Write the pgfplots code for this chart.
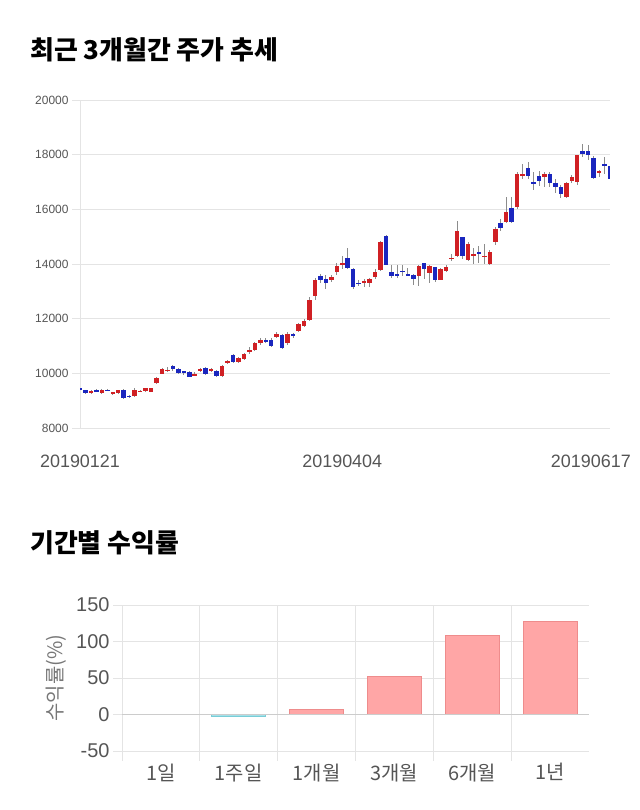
\documentclass[border=0pt]{standalone}
\usepackage{pgfplots}
\pgfplotsset{compat=1.18}
\usepackage{pgfplotstable}
\usepackage{fontspec}
\setmainfont{Liberation Sans}
\newfontfamily\kr{Noto Sans CJK KR}
\definecolor{upred}{RGB}{208,32,36}
\definecolor{dnblue}{RGB}{26,38,190}
\definecolor{wick}{RGB}{140,140,140}
\definecolor{gridc}{RGB}{228,228,228}
\definecolor{lbl}{RGB}{85,85,85}
\definecolor{barred}{RGB}{255,166,166}
\definecolor{barredd}{RGB}{238,140,140}
\definecolor{barcy}{RGB}{165,224,232}
\definecolor{barcyd}{RGB}{120,205,215}

% red candles (close >= open)
\pgfplotstableread{
i o h l c
2 9280 9400 9250 9350
4 9280 9420 9260 9400
6 9230 9320 9200 9300
7 9270 9400 9250 9380
10 9180 9450 9150 9400
11 9330 9380 9300 9360
12 9350 9480 9330 9450
13 9330 9470 9300 9450
14 9650 9880 9600 9830
15 9990 10200 9960 10160
16 10100 10250 10050 10130
21 9940 10050 9900 9970
22 10090 10200 10050 10150
24 10080 10180 10050 10150
26 9900 10300 9880 10270
27 10390 10500 10350 10450
29 10400 10600 10380 10550
30 10530 10750 10500 10700
31 10770 10950 10700 10850
32 10850 11150 10800 11100
33 11100 11300 11050 11220
36 11340 11500 11300 11440
38 11100 11500 11050 11440
40 11560 11850 11500 11800
41 11720 12000 11700 11920
42 11950 12800 11900 12700
43 12820 13480 12700 13420
46 13400 13600 13350 13540
47 13700 14050 13600 13940
48 13970 14300 13800 14030
52 13320 13450 13150 13380
53 13320 13500 13150 13440
54 13520 13800 13450 13720
55 13780 14850 13750 14820
62 13560 13950 13200 13920
64 13680 13950 13300 13920
66 13420 13850 13400 13800
67 13760 13950 13700 13880
68 14180 14350 14100 14230
69 14300 15570 14250 15210
71 14150 14800 14100 14720
72 14300 14600 14000 14350
74 14280 14750 14000 14310
75 14000 14500 13980 14450
76 14820 15350 14700 15270
78 15550 16450 15500 15920
80 16080 17350 16000 17300
81 17220 17650 17100 17300
85 17200 17350 16800 17300
89 16440 17000 16400 16950
90 17050 17250 16950 17170
91 17010 18000 16900 17980
95 17320 17450 17200 17400
}\candleup

% blue candles (close < open)
\pgfplotstableread{
i o h l c
0 9450 9480 9380 9400
1 9380 9400 9230 9280
3 9380 9420 9300 9320
5 9400 9420 9340 9370
8 9380 9430 9050 9080
9 9170 9220 9100 9140
17 10270 10300 10100 10170
18 10150 10180 9980 10000
19 10070 10100 9950 10040
20 10060 10100 9850 9880
23 10200 10250 9950 9960
25 10100 10120 9880 9900
28 10680 10700 10380 10410
34 11220 11300 11100 11150
35 11220 11300 10950 11000
37 11400 11450 10880 10920
39 11440 11480 11300 11350
44 13560 13650 13300 13420
45 13450 13600 13100 13300
49 14210 14590 13800 13870
50 13800 13850 13100 13170
51 13320 13400 13200 13260
56 15030 15050 13950 13970
57 13720 13950 13500 13560
58 13650 13950 13500 13560
59 13760 13950 13550 13710
60 13630 13850 13550 13600
61 13600 13650 13250 13450
63 14030 14050 13450 13800
65 13880 13900 13350 13420
70 14970 15000 14200 14300
73 14450 14650 14050 14350
77 15510 15650 15200 15310
79 16040 16450 15500 15550
82 17530 17750 17100 17220
83 17010 17350 16700 16920
84 17220 17400 16850 17050
86 17300 17350 16800 16950
87 16950 17100 16600 16810
88 16810 16900 16400 16570
92 18120 18400 17900 18030
93 18150 18350 17800 17980
94 17870 17950 17100 17160
96 17650 17900 17300 17570
97 17570 17600 16800 17120
}\candledn

\pgfplotsset{
  candle/.style={only marks, mark=*, mark options={draw opacity=0, fill opacity=0}, forget plot,
    error bars/.cd, y dir=both, y explicit, error mark=none,
    error bar style={#1}},
}

\begin{document}
\begin{tikzpicture}
\path[use as bounding box] (0bp,0bp) rectangle (640bp,-810bp);
\node[anchor=west, inner sep=0pt] at (30bp,-50bp) {\kr\bfseries\fontsize{26}{28}\selectfont 최근 3개월간 주가 추세};
\node[anchor=west, inner sep=0pt] at (30bp,-543bp) {\kr\bfseries\fontsize{26}{28}\selectfont 기간별 수익률};

\begin{axis}[
  scale only axis, width=530bp, height=328bp,
  at={(80bp,-428bp)}, anchor=south west,
  xmin=0, xmax=97, ymin=8000, ymax=20000,
  ytick={8000,10000,...,20000},
  xtick={0,48,93.5}, xticklabels={20190121,20190404,20190617},
  scaled y ticks=false,
  /pgf/number format/assume math mode=true,
  yticklabel style={font=\fontsize{12}{12}\selectfont, text=lbl,
    /pgf/number format/fixed, /pgf/number format/1000 sep={}},
  xticklabel style={font=\fontsize{18}{18}\selectfont, text=lbl, yshift=-15bp},
  ymajorgrids, grid style={gridc, line width=0.8bp},
  axis lines*=left, x axis line style={draw=none}, y axis line style={gridc, line width=0.8bp, -},
  tick pos=left, tick align=outside, major tick length=8bp,
  ytick style={gridc, line width=0.8bp}, xtick style={draw=none},
]
\addplot[candle={wick, line width=0.8bp}]
  table[x=i, y expr={(\thisrow{h}+\thisrow{l})/2}, y error expr={(\thisrow{h}-\thisrow{l})/2}] {\candleup};
\addplot[candle={wick, line width=0.8bp}]
  table[x=i, y expr={(\thisrow{h}+\thisrow{l})/2}, y error expr={(\thisrow{h}-\thisrow{l})/2}] {\candledn};
\addplot[candle={upred, line width=4.5bp}]
  table[x=i, y expr={(\thisrow{o}+\thisrow{c})/2}, y error expr={max(abs(\thisrow{c}-\thisrow{o})/2,15)}] {\candleup};
\addplot[candle={dnblue, line width=4.5bp}]
  table[x=i, y expr={(\thisrow{o}+\thisrow{c})/2}, y error expr={max(abs(\thisrow{c}-\thisrow{o})/2,15)}] {\candledn};
\end{axis}

\begin{axis}[
  scale only axis, width=467bp, height=146bp,
  at={(122bp,-751bp)}, anchor=south west,
  xmin=-0.5, xmax=5.5, ymin=-50, ymax=150,
  ytick={-50,0,50,100,150},
  xtick={0,1,2,3,4,5},
  xticklabels={{\kr 1일},{\kr 1주일},{\kr 1개월},{\kr 3개월},{\kr 6개월},{\kr 1년}},
  minor xtick={-0.5,0.5,...,4.5},
  /pgf/number format/assume math mode=true,
  yticklabel style={font=\fontsize{20}{20}\selectfont, text=lbl},
  xticklabel style={font=\fontsize{20}{20}\selectfont, text=lbl, yshift=0bp},
  xminorgrids, ymajorgrids, xmajorgrids=false,
  grid style={gridc, line width=0.8bp}, minor grid style={gridc, line width=0.8bp},
  axis line style={draw=none},
  tick pos=left, tick align=outside, major tick length=9bp, minor tick length=10bp,
  tick style={gridc, line width=0.8bp},
  major x tick style={draw=none},
  ylabel={\kr 수익률(\%)},
  every axis y label/.style={at={(axis description cs:0,0.5)}, xshift=-66bp, rotate=90, anchor=center,
    font=\fontsize{20}{20}\selectfont, text=lbl!80},
]
\addplot[ybar, bar width=54bp, bar shift=0pt, fill=barred, draw=barredd, line width=0.8bp]
  coordinates {(2,7) (3,52) (4,108) (5,127)};
\addplot[ybar, bar width=54bp, bar shift=0pt, fill=barcy, draw=barcyd, line width=0.8bp]
  coordinates {(1,-3)};
\addplot[gray!40, line width=1.2bp, forget plot] coordinates {(-0.5,0) (5.5,0)};
\end{axis}
\end{tikzpicture}
\end{document}
